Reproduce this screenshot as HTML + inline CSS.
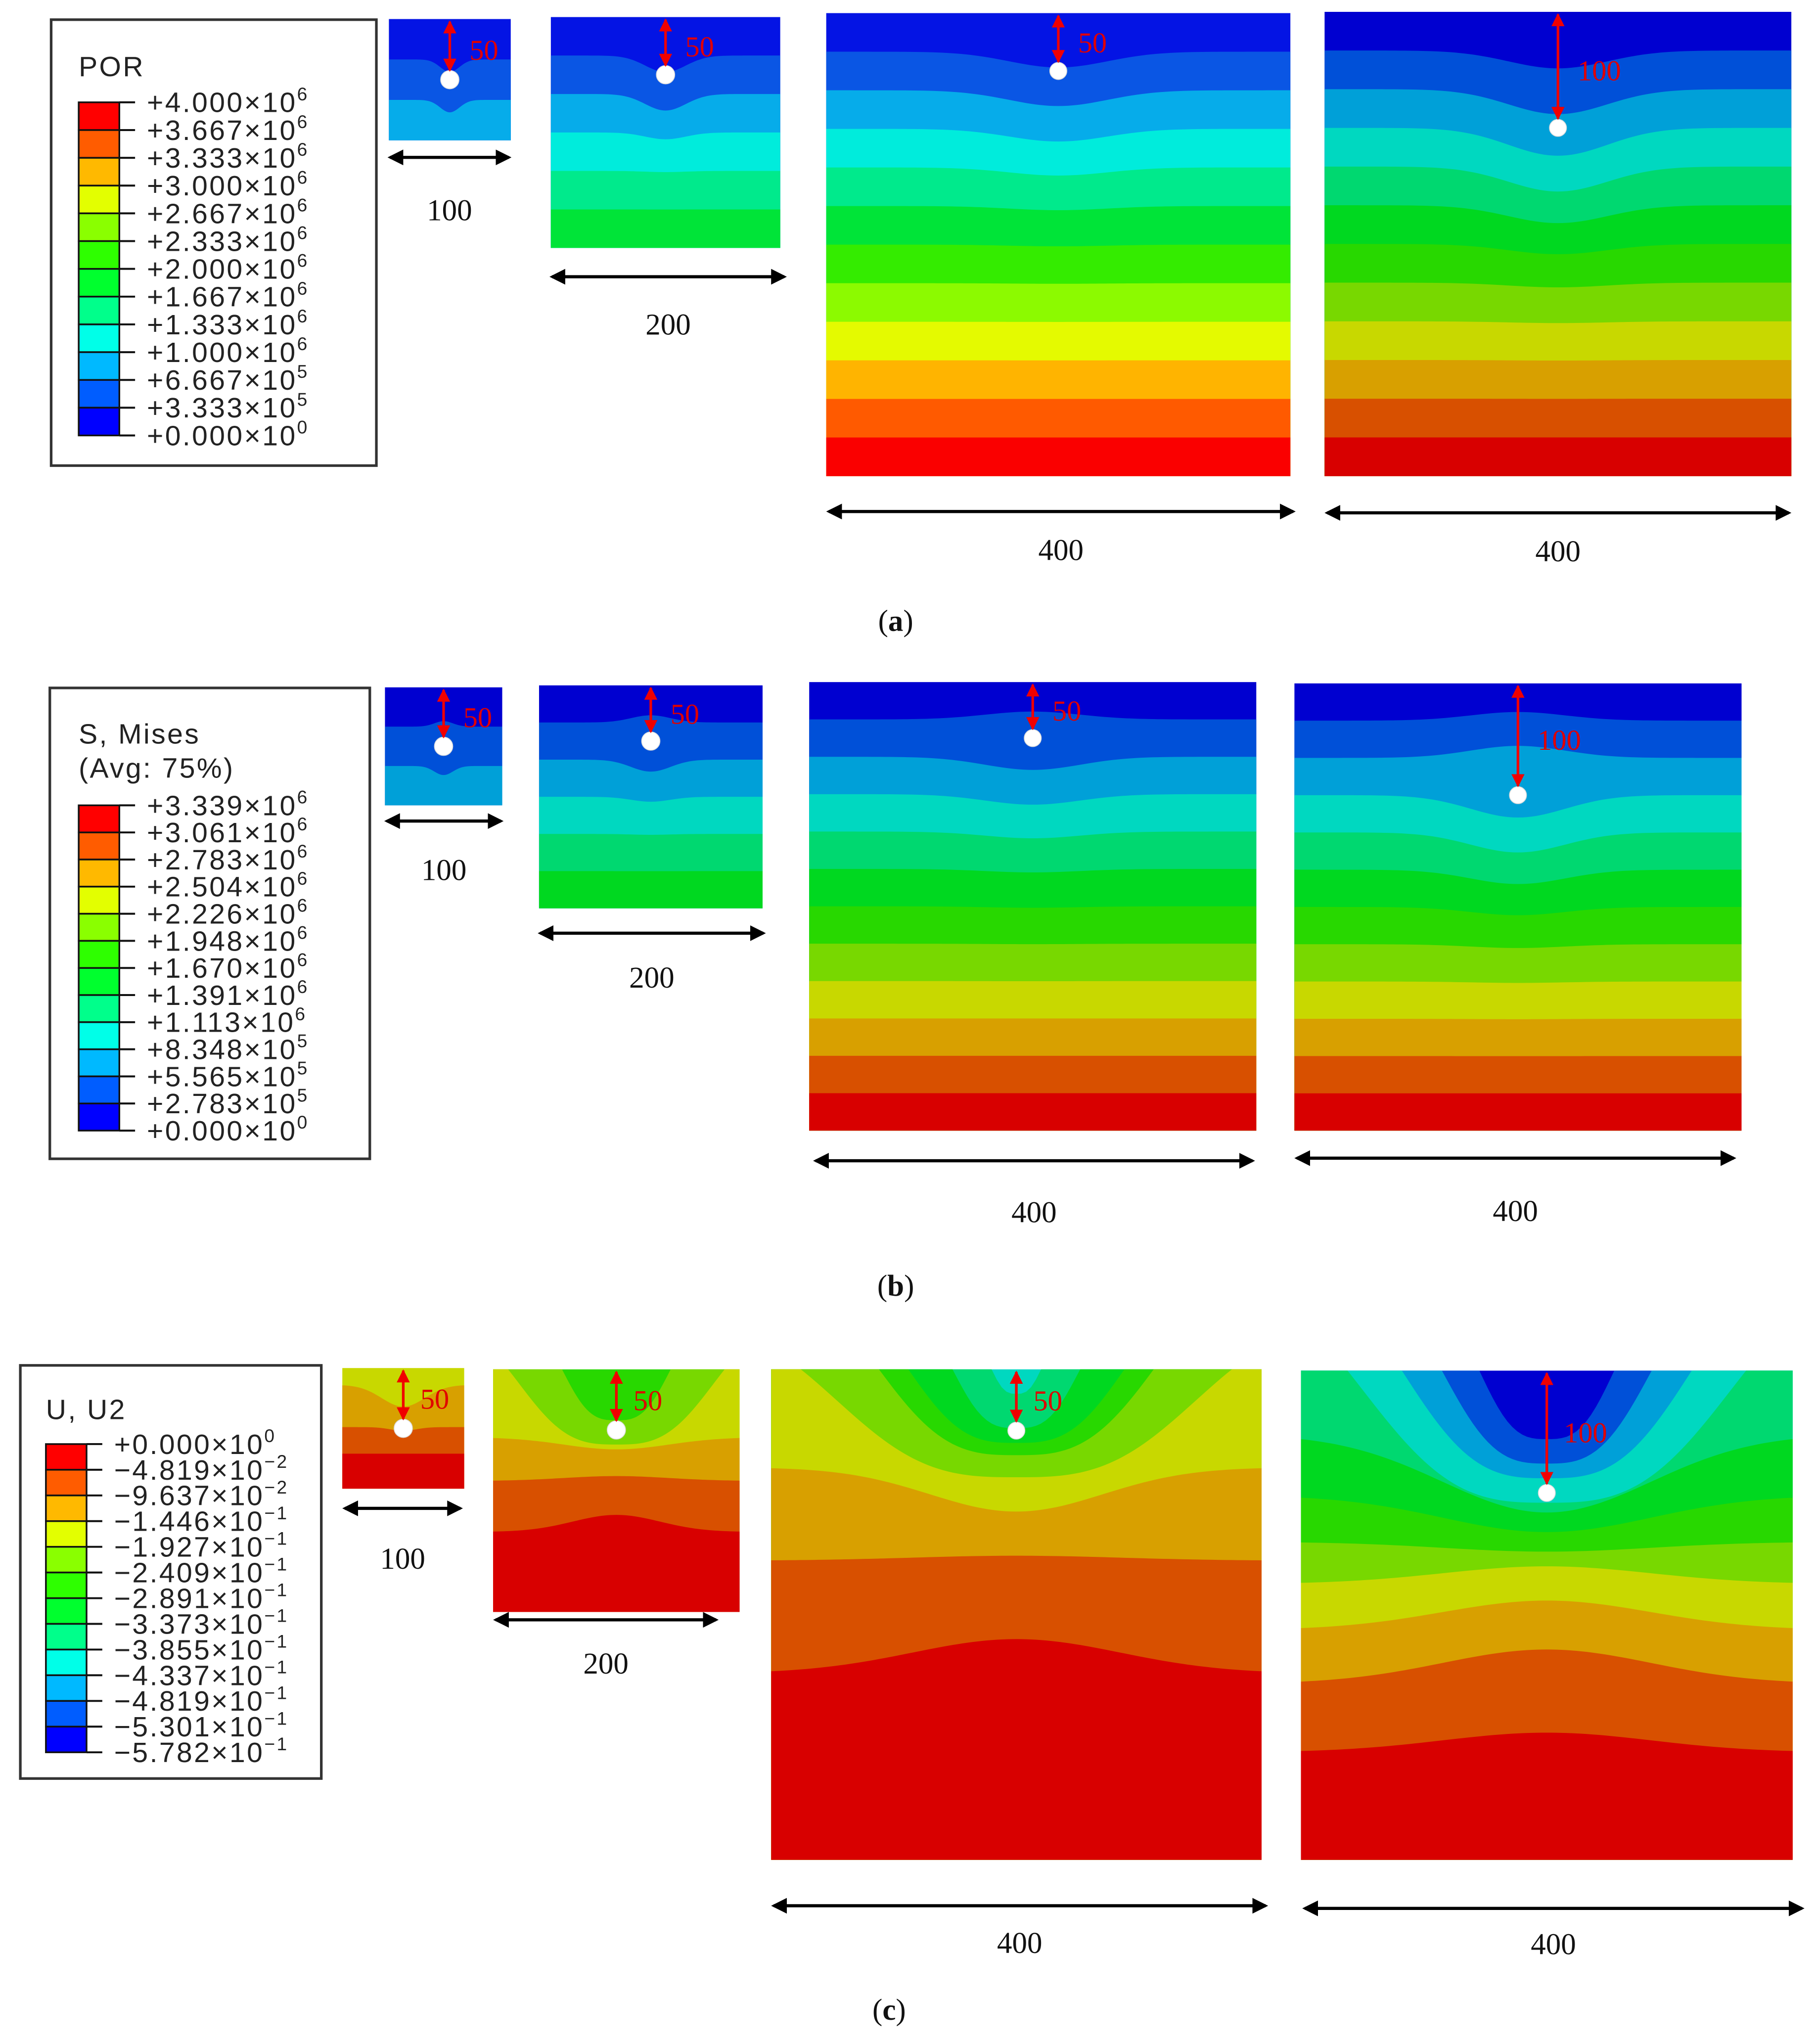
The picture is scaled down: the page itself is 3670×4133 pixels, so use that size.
<!DOCTYPE html>
<html><head><meta charset="utf-8"><title>Contour plots</title>
<style>
html,body{margin:0;padding:0;background:#fff;}
svg{display:block;}
.leg{font-family:"Liberation Sans","DejaVu Sans",sans-serif;font-size:21.5px;fill:#222;letter-spacing:1.3px;}
.dim{font-family:"Liberation Serif",serif;font-size:23px;fill:#111;}
.red{font-family:"Liberation Serif",serif;font-size:22px;fill:#e00000;}
.cap{font-family:"Liberation Serif",serif;font-size:23px;fill:#111;}
</style></head>
<body>
<svg id="fig" xmlns="http://www.w3.org/2000/svg" width="3670" height="4133" viewBox="0 0 1384 1558.4" preserveAspectRatio="none">
<defs>
<marker id="ab" viewBox="0 0 12 12" refX="10" refY="6" markerWidth="12" markerHeight="12" markerUnits="userSpaceOnUse" orient="auto-start-reverse"><path d="M0,0 L12,6 L0,12 Z" fill="#000"/></marker>
<marker id="ar" viewBox="0 0 10 10" refX="9" refY="5" markerWidth="10" markerHeight="11" markerUnits="userSpaceOnUse" orient="auto-start-reverse"><path d="M0,0 L10,5 L0,10 Z" fill="#f00000"/></marker>
</defs>
</svg>
<script>
// ---------- data ----------
const porMant = ["+4.000","+3.667","+3.333","+3.000","+2.667","+2.333","+2.000","+1.667","+1.333","+1.000","+6.667","+3.333","+0.000"];
const porExp  = ["6","6","6","6","6","6","6","6","6","6","5","5","0"];
const misMant = ["+3.339","+3.061","+2.783","+2.504","+2.226","+1.948","+1.670","+1.391","+1.113","+8.348","+5.565","+2.783","+0.000"];
const misExp  = ["6","6","6","6","6","6","6","6","6","5","5","5","0"];
const u2Mant  = ["+0.000","\u22124.819","\u22129.637","\u22121.446","\u22121.927","\u22122.409","\u22122.891","\u22123.373","\u22123.855","\u22124.337","\u22124.819","\u22125.301","\u22125.782"];
const u2Exp   = ["0","\u22122","\u22122","\u22121","\u22121","\u22121","\u22121","\u22121","\u22121","\u22121","\u22121","\u22121","\u22121"];
const domainSizes = [100,200,400,400];
const holeDepths  = [50,50,50,100];
// panel (c) contour boundaries: [base depth fraction, centre bump, spread, shape power]
const c1Cols = [8,9,10,11];
const c1Bnds = [[0.14,0.18,0.25,2],[0.49,0.03,0.15,2],[0.71,0.0,0.3,2]];
const c2Cols = [6,7,8,9,10,11];
const c2Bnds = [[-0.21,0.42,0.249,3],[-0.2,0.51,0.449,3],[0.28,0.05,0.3,2],[0.46,-0.02,0.3,2],[0.67,-0.07,0.25,2]];
const c3Cols = [3,4,5,6,7,8,9,10,11];
const c3Bnds = [[-0.05,0.10,0.057,3],[-0.12,0.24,0.147,3],[-0.15,0.30,0.249,3],[-0.2,0.375,0.327,3],[-0.1,0.32,0.418,3],[0.2,0.09,0.25,2],[0.39,-0.01,0.3,2],[0.62,-0.07,0.3,2]];
const c4Cols = [0,1,2,3,4,5,6,7,8,9,10,11];
const c4Bnds = [[-0.14,0.28,0.155,3],[-0.19,0.38,0.241,3],[-0.22,0.44,0.333,3],[-0.2,0.47,0.427,3],[0.13,0.16,0.3,2],[0.255,0.075,0.3,2],[0.35,0.02,0.3,2],[0.436,-0.036,0.3,2],[0.53,-0.06,0.3,2],[0.64,-0.07,0.3,2],[0.78,-0.04,0.3,2]];

// ---------- styling ----------
const BRIGHT=['#0000FF','#005DFF','#00B9FF','#00FFE8','#00FF8B','#00FF2E','#2EFF00','#8AFF00','#E3FF00','#FFB900','#FF5C00','#FF0000'];
const VIVID=['#0414E4','#0A56E4','#06ACEA','#00ECDC','#00EA8C','#00E438','#34EC00','#8CFA00','#E4FA00','#FFB400','#FF5A00','#FA0000'];
const MID=['#0000D0','#0050D8','#00A0D8','#00D8C0','#00D870','#00D820','#28D800','#78D800','#C8D800','#D8A000','#D85000','#D80000'];
const NS='http://www.w3.org/2000/svg';
const svg=document.getElementById('fig');
function mk(tag,attrs,parent){const e=document.createElementNS(NS,tag);for(const k in attrs)e.setAttribute(k,attrs[k]);(parent||svg).appendChild(e);return e;}
let clipId=0;

function drawField(name,x,y,w,h,cx,cols,bnds,pal){
  const g=mk('g',{});
  
  
  const cp=mk('clipPath',{id:'cp'+(++clipId)},g);
  mk('rect',{x:x,y:y,width:w,height:h},cp);
  const inner=mk('g',{'clip-path':'url(#cp'+clipId+')'},g);
  const r=mk('rect',{x:x,y:y,width:w,height:h,fill:pal[cols[0]]},inner);
  
  
  for(let i=0;i<bnds.length;i++){
    const b=bnds[i];const pw=b[3]||2;let d='M'+x+','+(y+h+2);
    const N=100;
    for(let j=0;j<=N;j++){
      const xf=j/N;
      let v=b[0]+b[1]*Math.exp(-Math.pow(Math.abs(xf-cx)/b[2],pw));
      v=Math.max(-0.02,Math.min(1.02,v));
      d+=' L'+(x+xf*w).toFixed(2)+','+(y+v*h).toFixed(2);
    }
    d+=' L'+(x+w)+','+(y+h+2)+' Z';
    const p=mk('path',{d:d,fill:pal[cols[i+1]]},inner);
    
    
  }
  return g;
}
function layered(size,hole,A,sign){
  const n=Math.round(size/400*12),hf=hole/size,cols=[],bnds=[];
  for(let k=0;k<n;k++)cols.push(k);
  for(let k=1;k<n;k++){
    const f=k/n;let amp=A*Math.exp(-Math.pow((f-hf)/0.25,2));
    if(sign&&f<hf)amp=-amp*0.6;
    bnds.push([f,amp,0.1+0.05*(size/100)/4,2]);
  }
  return {cols:cols,bnds:bnds};
}
function hole(x,y,r){
  const c=mk('circle',{cx:x,cy:y,r:r,fill:'#fff',stroke:'#ddd','stroke-width':0.6});
  
  
}
function depthArrow(x,y0,y1,label,lx,ly){
  const l=mk('line',{x1:x,y1:y0+2,x2:x,y2:y1,stroke:'#f00000','stroke-width':2,'marker-start':'url(#ar)','marker-end':'url(#ar)'});
  
  
  const t=mk('text',{x:lx,y:ly,class:'red'});t.textContent=label;
  
  
}
function dimArrow(x0,x1,y,label,ly){
  const l=mk('line',{x1:x0,y1:y,x2:x1,y2:y,stroke:'#000','stroke-width':2.4,'marker-start':'url(#ab)','marker-end':'url(#ab)'});
  
  
  const t=mk('text',{x:(x0+x1)/2,y:ly,class:'dim','text-anchor':'middle'});t.textContent=label;
  
  
}
function legend(name,bx,by,bw,bh,titles,ty,barX,barY0,barY1,mant,exps){
  const g=mk('g',{});
  
  
  mk('rect',{x:bx,y:by,width:bw,height:bh,fill:'#fff',stroke:'#333','stroke-width':2},g);
  titles.forEach((s,i)=>{const t=mk('text',{x:barX,y:ty+i*26,class:'leg'},g);t.textContent=s;
    
    });
  const step=(barY1-barY0)/12;
  for(let i=0;i<12;i++){
    const r=mk('rect',{x:barX,y:barY0+i*step,width:31,height:step,fill:BRIGHT[11-i],stroke:'#111','stroke-width':1.3},g);
    
    
  }
  for(let i=0;i<13;i++){
    const yy=barY0+i*step;
    mk('line',{x1:barX+31,y1:yy,x2:barX+43,y2:yy,stroke:'#111','stroke-width':1.5},g);
    const t=mk('text',{x:barX+52,y:yy+7.5,class:'leg'},g);
    
    
    t.appendChild(document.createTextNode(mant[i]+'\u00d710'));
    const sp=mk('tspan',{dy:-9,'font-size':14},t);sp.textContent=exps[i];
  }
}

// ---------- panel (a) ----------
legend('legend-por',39,15,248,340,['POR'],58,60,78,332,porMant,porExp);
const aBoxes=[[296.5,14.5,93,92.5],[420,13,175,176],[630,10,354,353],[1010,9,356,354]];
const aPal=[VIVID,VIVID,VIVID,MID];
const aA=[0.16,0.08,0.035,0.06];
for(let i=0;i<4;i++){
  const [x,y,w,h]=aBoxes[i];const L=layered(domainSizes[i],holeDepths[i],aA[i],false);
  drawField('por-field-'+(i+1),x,y,w,h,0.5,L.cols,L.bnds,aPal[i]);
  const hy=y+h*holeDepths[i]/domainSizes[i];
  hole(x+w/2,hy,i<2?7:6.5);
  depthArrow(x+w/2,y,hy-7,String(holeDepths[i]),x+w/2+15,y+(hy-y)/2+8);
}
dimArrow(297.5,388,120,'100',168);
dimArrow(421,598,211,'200',255);
dimArrow(632,986,390,'400',427);
dimArrow(1012,1364,391,'400',428);
{const t=mk('text',{x:683,y:481,class:'cap','text-anchor':'middle'});t.innerHTML='(<tspan font-weight="bold">a</tspan>)';

}

// ---------- panel (b) ----------
legend('legend-mises',38,524.5,244,359,['S, Mises','(Avg: 75%)'],567,60,614,862,misMant,misExp);
const bBoxes=[[293.5,524,89.5,90],[411,522.5,170.5,170],[617,520,341,342],[987,521,341,341]];
const bA=[0.12,0.06,0.03,0.05];
for(let i=0;i<4;i++){
  const [x,y,w,h]=bBoxes[i];const L=layered(domainSizes[i],holeDepths[i],bA[i],true);
  drawField('mises-field-'+(i+1),x,y,w,h,0.5,L.cols,L.bnds,MID);
  const hy=y+h*holeDepths[i]/domainSizes[i];
  hole(x+w/2,hy,i<2?7:6.5);
  depthArrow(x+w/2,y,hy-7,String(holeDepths[i]),x+w/2+15,y+(hy-y)/2+8);
}
dimArrow(295,382,626,'100',671);
dimArrow(412,582,711.5,'200',753);
dimArrow(622,955,885,'400',932);
dimArrow(989,1322,883,'400',931);
{const t=mk('text',{x:683,y:988,class:'cap','text-anchor':'middle'});t.innerHTML='(<tspan font-weight="bold">b</tspan>)';

}

// ---------- panel (c) ----------
legend('legend-u2',15.5,1041,229.5,315,['U, U2'],1082,35,1101,1336,u2Mant,u2Exp);
const cBoxes=[[261,1043,93,92],[376,1044,188,185],[588,1044,374,374],[992,1045,375,373]];
const cCols=[c1Cols,c2Cols,c3Cols,c4Cols];
const cBnds=[c1Bnds,c2Bnds,c3Bnds,c4Bnds];
for(let i=0;i<4;i++){
  const [x,y,w,h]=cBoxes[i];
  drawField('u2-field-'+(i+1),x,y,w,h,0.5,cCols[i],cBnds[i],MID);
  const hy=y+h*holeDepths[i]/domainSizes[i];
  hole(x+w/2,hy,i<2?7:6.5);
  depthArrow(x+w/2,y,hy-7,String(holeDepths[i]),x+w/2+13,y+(hy-y)/2+8);
}
dimArrow(263,351,1150,'100',1196);
dimArrow(378,546,1235,'200',1276);
dimArrow(590,965,1453,'400',1489);
dimArrow(995,1374,1455,'400',1490);
{const t=mk('text',{x:678,y:1540,class:'cap','text-anchor':'middle'});t.innerHTML='(<tspan font-weight="bold">c</tspan>)';

}
</script>
</body></html>
